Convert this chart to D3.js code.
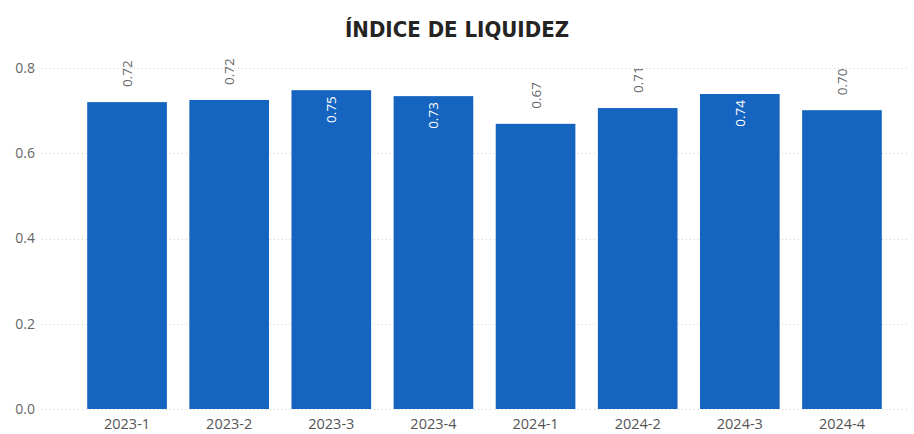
<!DOCTYPE html>
<html><head><meta charset="utf-8">
<script src="https://cdn.jsdelivr.net/npm/d3@7"></script>
<style>
body{margin:0;background:#fff;}
svg{display:block;}
</style></head>
<body><svg id="c" width="914" height="434"></svg>
<script>
const title = "ÍNDICE DE LIQUIDEZ";
const categories = ["2023-1","2023-2","2023-3","2023-4","2024-1","2024-2","2024-3","2024-4"];
const values = [0.72, 0.725, 0.748, 0.734, 0.669, 0.706, 0.739, 0.701];
const labels = ["0.72","0.72","0.75","0.73","0.67","0.71","0.74","0.70"];
const yTicks = [0, 0.2, 0.4, 0.6, 0.8];

const svg = d3.select("#c");
const plotTop = 56, y0 = 409;
const x = d3.scaleBand().domain(categories).range([77, 892]).paddingInner(0.22).paddingOuter(0.1);
const y = d3.scaleLinear().domain([0, 0.8]).range([y0, 68]);

svg.append("text").attr("x", 457).attr("y", 37).attr("text-anchor", "middle")
  .attr("font-family", "'DejaVu Sans Condensed', 'DejaVu Sans', sans-serif").attr("font-weight", "bold")
  .attr("font-size", 22).attr("fill", "#252423").text(title);

// grid
svg.append("g").selectAll("line").data(yTicks).join("line")
  .attr("x1", 42).attr("x2", 910)
  .attr("y1", d => Math.round(y(d)) + 0.5).attr("y2", d => Math.round(y(d)) + 0.5)
  .attr("stroke", "#cfcfcf").attr("stroke-width", 1).attr("stroke-dasharray", "1,3");

// y axis
const yAxis = d3.axisLeft(y).tickValues(yTicks).tickFormat(d3.format(".1f")).tickSize(0).tickPadding(0);
const ya = svg.append("g").attr("transform", "translate(35,0)").call(yAxis);
ya.select(".domain").remove();
ya.selectAll("text").attr("font-family", "'Open Sans', 'Noto Sans', sans-serif").attr("font-size", 14).attr("fill", "#666");

// bars
svg.append("g").selectAll("rect").data(categories).join("rect")
  .attr("x", d => x(d)).attr("width", x.bandwidth())
  .attr("y", (d, i) => y(values[i])).attr("height", (d, i) => y0 - y(values[i]))
  .attr("fill", "#1565c0");

// x axis
const xAxis = d3.axisBottom(x).tickSize(0).tickPadding(10);
const xa = svg.append("g").attr("transform", `translate(0,${y0})`).call(xAxis);
xa.select(".domain").remove();
xa.selectAll("text").attr("font-family", "'Open Sans', 'Noto Sans', sans-serif").attr("font-size", 14.5).attr("fill", "#555");

// data labels
const labLen = 28, gapOut = 15, gapIn = 6;
svg.append("g").selectAll("text").data(categories).join("text")
  .each(function(d, i) {
    const top = y(values[i]);
    const outside = top - gapOut - labLen >= plotTop;
    const cx = x(d) + x.bandwidth() / 2;
    const sel = d3.select(this);
    if (outside) {
      sel.attr("transform", `translate(${cx + 5},${top - gapOut}) rotate(-90)`)
        .attr("text-anchor", "start").attr("fill", "#666");
    } else {
      sel.attr("transform", `translate(${cx + 5},${top + gapIn}) rotate(-90)`)
        .attr("text-anchor", "end").attr("fill", "#fff");
    }
  })
  .attr("font-family", "'Open Sans', 'Noto Sans', sans-serif").attr("font-size", 13.5)
  .text((d, i) => labels[i]);
</script></body></html>
